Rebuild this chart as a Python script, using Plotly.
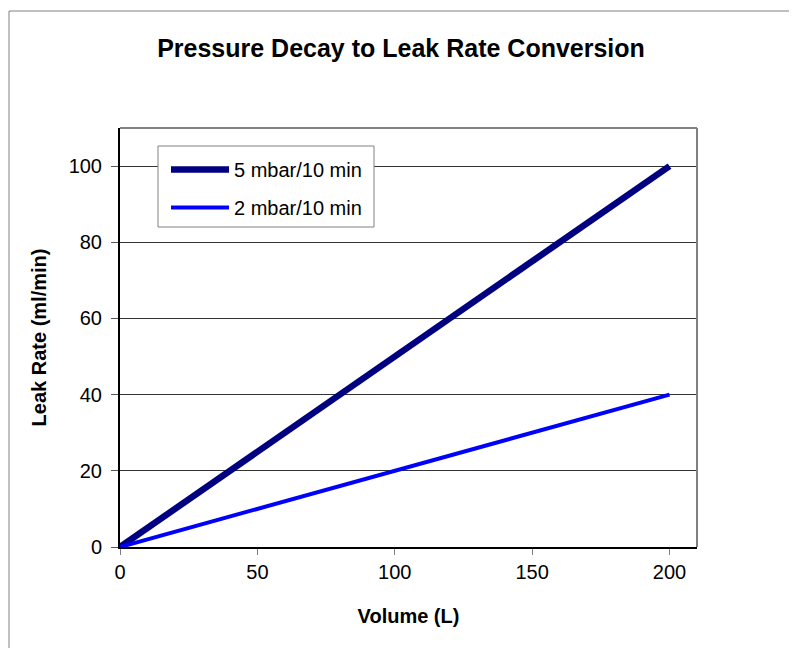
import plotly.graph_objects as go

volume = [0, 50, 100, 150, 200]
rate_5mbar = [0, 25, 50, 75, 100]
rate_2mbar = [0, 10, 20, 30, 40]
series_names = ["5 mbar/10 min", "2 mbar/10 min"]

W, H = 797, 648
OFF = 8  # page body margin
L, T = 120 - OFF, 128 - OFF
R, B = W - (697 - OFF), H - (547 - OFF)
pw, ph = W - L - R, H - T - B


def px(x):
    return (x - 120) / pw


def py(y):
    return (547 - y) / ph


fig = go.Figure()
fig.add_trace(go.Scatter(x=volume, y=rate_5mbar, mode="lines", name=series_names[0],
                         legendgroup="a", line=dict(color="#000080", width=6.5)))
fig.add_trace(go.Scatter(x=volume, y=rate_2mbar, mode="lines", name=series_names[1],
                         legendgroup="b", line=dict(color="#0000FF", width=4)))

font = "Liberation Sans, Arial, sans-serif"
fig.update_layout(
    width=W, height=H,
    margin=dict(l=L, r=R, t=T, b=B),
    paper_bgcolor="white", plot_bgcolor="white",
    font=dict(family=font, size=20, color="black"),
    title=dict(text="<b>Pressure Decay to Leak Rate Conversion</b>", x=px(401), xref="paper",
               xanchor="center", y=(H - (48 - OFF)) / H, yanchor="middle", font=dict(size=25)),
    showlegend=True,
    legend=dict(x=px(166), y=py(150), xanchor="left", yanchor="top",
                bgcolor="rgba(0,0,0,0)", borderwidth=0, itemwidth=58,
                traceorder="grouped", tracegroupgap=9,
                font=dict(size=20)),
    xaxis=dict(range=[0, 210], tickvals=[0, 50, 100, 150, 200], showgrid=False,
               zeroline=False, showline=True, linecolor="black", linewidth=2,
               ticks="outside", ticklen=6, tickcolor="#808080",
               title=dict(text="<b>Volume (L)</b>", font=dict(size=20), standoff=27)),
    yaxis=dict(range=[0, 110], tickvals=[0, 20, 40, 60, 80, 100], showgrid=True,
               gridcolor="#333333", gridwidth=1, zeroline=False, showline=True,
               linecolor="black", linewidth=2, ticks="outside", ticklen=7, tickcolor="#555555",
               ticklabelstandoff=5,
               title=dict(text="<b>Leak Rate (ml/min)</b>", font=dict(size=20), standoff=17)),
    shapes=[
        dict(type="rect", xref="paper", yref="paper", x0=px(158), x1=px(374),
             y0=py(227), y1=py(146), fillcolor="white",
             line=dict(color="#808080", width=1), layer="above"),
        dict(type="line", xref="paper", yref="paper", x0=0, x1=1, y0=1, y1=1,
             line=dict(color="#808080", width=2)),
        dict(type="line", xref="paper", yref="paper", x0=1, x1=1, y0=0, y1=1,
             line=dict(color="#808080", width=2)),
        dict(type="rect", xref="paper", yref="paper",
             x0=px(9), x1=1.4, y0=-0.4, y1=py(11),
             line=dict(color="#808080", width=1), layer="below"),
    ],
)
fig.write_html("out.html")
